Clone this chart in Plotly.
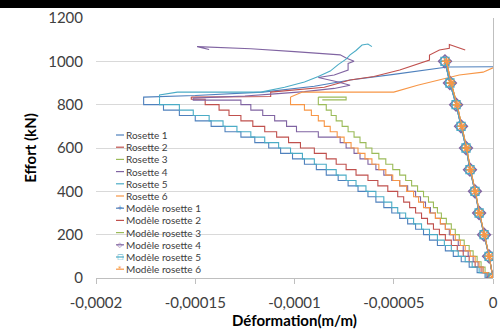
import plotly.graph_objects as go

# ---------------- data (deformation in 1e-6 m/m, load in kN) ----------------
step_load = [0, 25, 50, 75, 100, 125, 150, 175, 200, 225, 250, 275, 300, 325, 350, 375, 400,
             425, 450, 475, 500, 525, 550, 575, 600, 625, 650, 675, 700, 725, 750, 775, 800]

# Rosette loading branches (staircase), last value = first peak
r1_load = step_load + [826]
r1_def = [0, -4, -8, -12, -16, -20, -24, -28, -32, -35, -39, -43, -47, -51, -55, -59, -63,
          -68, -73, -78, -84, -89, -95, -101, -107, -113, -120, -127, -135, -142, -150, -158, -166, -176]
r2_load = step_load + [825, 835]
r2_def = [0, -3, -6, -9, -12, -15, -18, -21, -24, -27, -30, -33, -36, -39, -42, -45, -48,
          -53, -58, -63, -69, -74, -79, -84, -90, -97, -103, -109, -115, -121, -127, -133, -138, -145, -152]
r3_load = step_load + [835]
r3_def = [0, -2, -4, -6, -8, -10, -12, -14.5, -17, -19, -21, -23.5, -26, -28, -30, -32.5, -35,
          -38, -41, -44, -47, -50.5, -54, -57.5, -61, -64, -67, -70, -73, -76, -79, -81.5, -84, -88]
r4_load = step_load + [821, 830]
r4_def = [0, -2.5, -5, -7.5, -10, -12.5, -15, -17.5, -20, -22, -24, -26.5, -29, -31.5, -34, -36.5, -39,
          -43, -47, -51, -55, -59, -63, -67, -70, -74, -77, -88, -99, -104, -110, -116, -122, -127, -151]
r5_load = step_load + [830]
r5_def = [0, -3.5, -7, -10.5, -14, -17.5, -21, -24.5, -28, -32, -36, -40, -44, -48, -51, -55, -59,
          -64, -69, -74, -79, -84, -90, -96, -102, -108, -115, -122, -129, -136, -143, -151, -158, -168]
r6_load = step_load + [835]
r6_def = [0, -2.5, -5, -7, -9, -11.5, -14, -16.5, -19, -21.5, -24, -26.5, -29, -32, -35, -37.5, -40,
          -43.5, -47, -50.5, -54, -57.5, -61, -64.5, -68, -71.5, -75, -78.5, -82, -85, -88, -91.5, -95, -102]

# Rosette branches after the first peak
r1_up_def = [-176, -176, -150, -116, -90, -72, -50, -23, 0]
r1_up_load = [826, 835, 842, 858, 885, 914, 940, 974, 975]
r2_up_def = [-152, -112, -112, -95, -85, -72, -60, -47, -40, -32, -32, -27, -22, -22, -14]
r2_up_load = [835, 838, 858, 870, 880, 914, 930, 960, 983, 1006, 1029, 1052, 1060, 1078, 1052]
r3_up_def = [-88, -74, -74, -86]
r3_up_load = [835, 835, 822, 822]
r4_up_def = [-151, -125, -110, -95, -80, -72, -78, -88, -80, -73, -73, -70, -74, -77, -100, -122, -149, -143]
r4_up_load = [830, 840, 850, 860, 875, 890, 905, 925, 937, 960, 990, 1000, 1015, 1030, 1045, 1058, 1068, 1055]
r5_up_def = [-168, -168, -159, -117, -105, -95, -88, -82, -78, -74, -72, -69, -66, -63, -61]
r5_up_load = [830, 845, 858, 858, 880, 905, 930, 955, 985, 1010, 1030, 1050, 1075, 1080, 1068]
r6_up_def = [-102, -96, -72, -50, -38, -28, -17, -5, 0]
r6_up_load = [835, 858, 858, 858, 890, 914, 937, 950, 970]

# Model rosettes
model_load = [0, 100, 200, 300, 400, 500, 600, 700, 800, 900, 1000]
m1_def = [0, -2.0, -4.5, -7.0, -9.1, -11.6, -13.6, -16.1, -18.6, -21.7, -24.2]
m2_def = [0, -1.9, -4.3, -6.8, -8.9, -11.3, -13.3, -15.7, -18.1, -21.1, -23.4]
m3_def = [0, -1.9, -4.3, -6.8, -8.9, -11.3, -13.3, -15.7, -18.1, -21.1, -23.4]
m4_def = [0, -2.0, -4.5, -7.0, -9.1, -11.6, -13.6, -16.1, -18.6, -21.7, -24.2]
m5_def = [0, -2.0, -4.5, -7.0, -9.1, -11.6, -13.6, -16.1, -18.6, -21.7, -24.2]
m6_def = [0, -1.9, -4.3, -6.8, -8.9, -11.3, -13.3, -15.7, -18.1, -21.1, -23.4]

x_tickvals = [-0.0002, -0.00015, -0.0001, -0.00005, 0]
x_ticktext = ["-0,0002", "-0,00015", "-0,0001", "-0,00005", "0"]
y_tickvals = [0, 200, 400, 600, 800, 1000, 1200]

series_names = ["Rosette 1", "Rosette 2", "Rosette 3", "Rosette 4", "Rosette 5", "Rosette 6",
                "Modèle rosette 1", "Modèle rosette 2", "Modèle rosette 3",
                "Modèle rosette 4", "Modèle rosette 5", "Modèle rosette 6"]
legend_marks = ["", "", "", "", "", "", "+", "", "", "◇", "□", "*"]

colors = ["#4F81BD", "#C0504D", "#9BBB59", "#8064A2", "#4BACC6", "#F79646"]
U = 1e-6
FONT = "Lato"

fig = go.Figure()

rosettes = [
    (r1_def, r1_load, r1_up_def, r1_up_load),
    (r2_def, r2_load, r2_up_def, r2_up_load),
    (r3_def, r3_load, r3_up_def, r3_up_load),
    (r4_def, r4_load, r4_up_def, r4_up_load),
    (r5_def, r5_load, r5_up_def, r5_up_load),
    (r6_def, r6_load, r6_up_def, r6_up_load),
]
for i, (d, l, ud, ul) in enumerate(rosettes):
    name = series_names[i]
    fig.add_trace(go.Scatter(
        x=[v * U for v in d], y=l, mode="lines", name=name, legendgroup=name,
        line=dict(color=colors[i], width=1.1, shape="hv")))
    fig.add_trace(go.Scatter(
        x=[v * U for v in ud], y=ul, mode="lines", name=name, legendgroup=name,
        line=dict(color=colors[i], width=1.1)))

models = [m1_def, m2_def, m3_def, m4_def, m5_def, m6_def]
symbols = ["cross-thin-open", "line-ew-open", "line-ew-open", "diamond-open", "square-open", "asterisk-open"]
sizes = [8, 7, 7, 10, 8, 7]
for i, d in enumerate(models):
    fig.add_trace(go.Scatter(
        x=[v * U for v in d], y=model_load, mode="lines+markers",
        name=series_names[6 + i],
        line=dict(color=colors[i], width=1.1),
        marker=dict(symbol=symbols[i], size=sizes[i], color=colors[i],
                    line=dict(color=colors[i], width=1.3))))

# ---- compact legend (Excel style), placed in paper coordinates ----
L, R, T, B = 96, 493, 18, 278
W, H = R - L, B - T


def px_x(px):
    return (px - L) / W


def px_y(py):
    return (B - py) / H


shapes = []
annotations = []
for k, nm in enumerate(series_names):
    py = 135 + 12.2 * k
    c = colors[k % 6]
    shapes.append(dict(type="line", xref="paper", yref="paper",
                       x0=px_x(116), x1=px_x(124), y0=px_y(py), y1=px_y(py),
                       line=dict(color=c, width=1.2)))
    annotations.append(dict(xref="paper", yref="paper", x=px_x(125), y=px_y(py),
                            xanchor="left", yanchor="middle", showarrow=False, borderpad=0,
                            text=nm, font=dict(family=FONT, size=10, color="#404040")))
    if legend_marks[k]:
        annotations.append(dict(xref="paper", yref="paper", x=px_x(120), y=px_y(py),
                                xanchor="center", yanchor="middle", showarrow=False, borderpad=0,
                                text=legend_marks[k],
                                font=dict(family="DejaVu Sans", size=7, color=c)))

# dark band along the top edge of the picture
shapes.append(dict(type="rect", xref="paper", yref="paper",
                   x0=px_x(0), x1=px_x(500), y0=px_y(8), y1=px_y(0),
                   fillcolor="black", line=dict(width=0), layer="above"))

fig.update_layout(
    width=500, height=334,
    margin=dict(l=L, r=500 - R, t=T, b=334 - B, autoexpand=False),
    paper_bgcolor="white", plot_bgcolor="white",
    font=dict(family=FONT, color="#404040"),
    showlegend=False,
    xaxis=dict(range=[-0.0002, 0], tickvals=x_tickvals, ticktext=x_ticktext,
               showgrid=False, zeroline=True, zerolinecolor="#BFBFBF", zerolinewidth=1,
               showline=True, linecolor="#BFBFBF", linewidth=1,
               ticks="outside", ticklen=5, tickcolor="#BFBFBF", ticklabelstandoff=6,
               tickfont=dict(family=FONT, size=15, color="#404040"), automargin=False,
               title=dict(text="<b>Déformation(m/m)</b>", font=dict(family=FONT, size=15, color="#000000"),
                          standoff=2)),
    yaxis=dict(range=[0, 1200], tickvals=y_tickvals, showgrid=True, gridcolor="#D9D9D9",
               zeroline=False, showline=False, ticks="", ticklabelstandoff=12,
               tickfont=dict(family=FONT, size=15, color="#404040"), automargin=False,
               title=dict(text="<b>Effort (kN)</b>", font=dict(family=FONT, size=15, color="#000000"),
                          standoff=7)),
    shapes=shapes,
    annotations=annotations,
)

fig.write_html("out.html", config={"displayModeBar": False},
               post_script="document.body.style.margin='0';document.body.style.overflow='hidden';")
